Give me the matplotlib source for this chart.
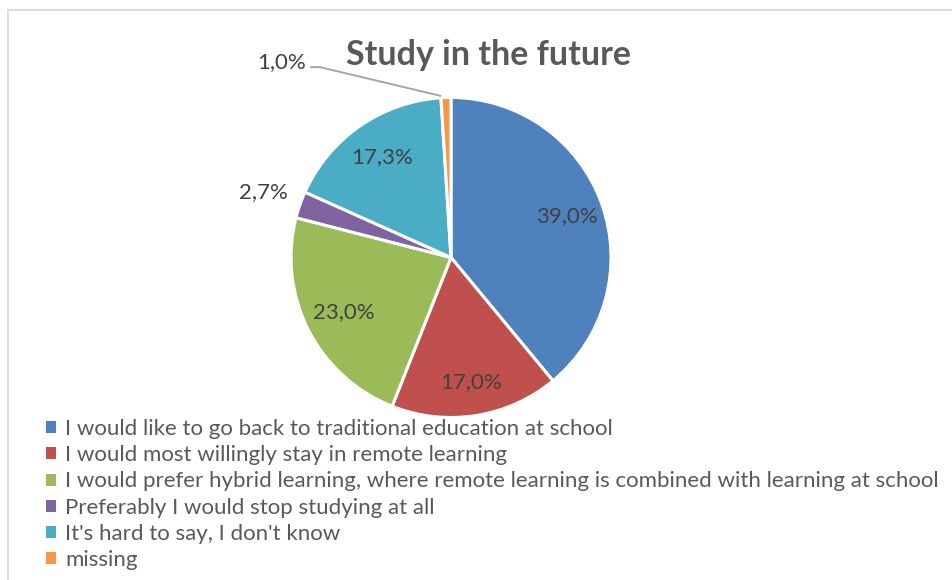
import numpy as np
import matplotlib

matplotlib.use("Agg")
import matplotlib.pyplot as plt
from matplotlib.patches import Rectangle

plt.rcParams["font.family"] = ["Lato", "DejaVu Sans"]

title = "Study in the future"
categories = [
    "I would like to go back to traditional education at school",
    "I would most willingly stay in remote learning",
    "I would prefer hybrid learning, where remote learning is combined with learning at school",
    "Preferably I would stop studying at all",
    "It's hard to say, I don't know",
    "missing",
]
shares = [39.0, 17.0, 23.0, 2.7, 17.3, 1.0]
colors = ["#4F81BD", "#C0504D", "#9BBB59", "#8064A2", "#4BACC6", "#F79646"]
# radial position of each percentage label (fraction of radius)
label_dist = [0.77, 0.79, 0.75, 1.24, 0.76, None]

W, H = 953, 580
fig = plt.figure(figsize=(W / 100, H / 100), dpi=100)
fig.patch.set_facecolor("white")

# thin chart-area frame, running off the right and bottom edges
fig.patches.append(Rectangle((8 / W, -0.05), 1.1, 1 - 10 / H + 0.05,
                             transform=fig.transFigure, fill=False,
                             edgecolor="#D9D9D9", lw=1.3))

cx, cy, r = 451, 580 - 257.5, 160
ax = fig.add_axes([(cx - r) / W, (cy - r) / H, 2 * r / W, 2 * r / H])
wedges, _ = ax.pie(shares, colors=colors, startangle=90, counterclock=False,
                   radius=1, wedgeprops=dict(edgecolor="white", linewidth=2.2))
ax.set_xlim(-1, 1)
ax.set_ylim(-1, 1)
ax.set_aspect("equal")
ax.axis("off")

def fmt(v):
    return f"{v:.1f}%".replace(".", ",")

for w, v, d in zip(wedges, shares, label_dist):
    mid = np.deg2rad((w.theta1 + w.theta2) / 2)
    if d is None:
        # small slice: label outside with a leader line
        ex, ey = np.cos(mid), np.sin(mid)
        tx, ty = -1.06, 1.22
        ax.text(tx, ty, fmt(v), ha="center", va="center", fontsize=16,
                color="#404040", clip_on=False)
        ax.plot([tx + 0.18, tx + 0.24, ex - 0.03], [ty - 0.03, ty - 0.03, ey + 0.01],
                color="#A6A6A6", lw=1.4, clip_on=False, solid_capstyle="butt")
        continue
    ax.text(d * np.cos(mid), d * np.sin(mid), fmt(v), ha="center", va="center",
            fontsize=16, color="#404040")

fig.text(489 / W, 1 - 55 / H, title, ha="center", va="center", fontsize=24.5,
         fontweight="bold", color="#595959")

leg = fig.legend(wedges, categories, loc="upper left",
                 bbox_to_anchor=(46 / W, 1 - 419 / H), frameon=False,
                 fontsize=16.0, labelcolor="#595959", handlelength=0.45,
                 handleheight=0.45, handletextpad=0.4, labelspacing=0.28,
                 borderpad=0, borderaxespad=0)
for h in leg.legend_handles:
    h.set_edgecolor("none")

fig.savefig("out.png", dpi=100)
